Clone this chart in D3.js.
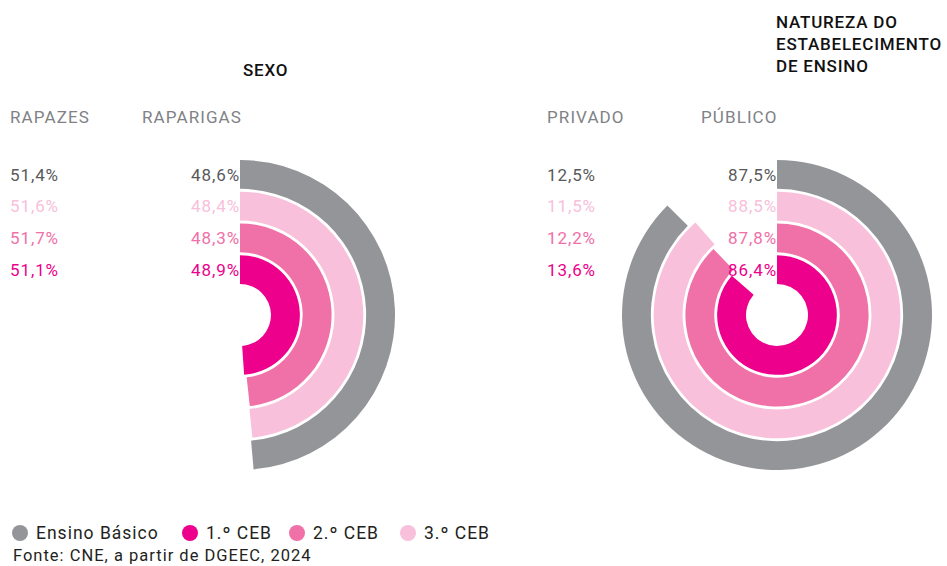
<!DOCTYPE html>
<html>
<head>
<meta charset="utf-8">
<script src="https://cdn.jsdelivr.net/npm/d3@7"></script>
<style>
  body { margin: 0; background: #fff; }
  svg { font-family: Roboto, "Noto Sans", sans-serif; }
</style>
</head>
<body>
<div id="chart"></div>
<script>
// levels, ordered inner ring -> outer ring
const levels = ["1.º CEB", "2.º CEB", "3.º CEB", "Ensino Básico"];
const legendOrder = ["Ensino Básico", "1.º CEB", "2.º CEB", "3.º CEB"];
const colors = ["#ec008c", "#f070a8", "#f8c0da", "#939598"];
const labelColors = ["#ec008c", "#f070a8", "#f8c0da", "#58595b"];

// values per level (same order as levels)
const rapazes = [51.1, 51.7, 51.6, 51.4];
const raparigas = [48.9, 48.3, 48.4, 48.6];
const privado = [13.6, 12.2, 11.5, 12.5];
const publico = [86.4, 87.8, 88.5, 87.5];

const width = 947, height = 566;
const svg = d3.select("#chart").append("svg")
    .attr("width", width)
    .attr("height", height);

// radial band scale shared by both charts
const r = d3.scaleBand()
    .domain(levels)
    .range([31, 155])
    .paddingInner(0.09);

const angle = d3.scaleLinear()
    .domain([0, 100])
    .range([0, 2 * Math.PI]);

const color = d3.scaleOrdinal().domain(levels).range(colors);
const labelColor = d3.scaleOrdinal().domain(levels).range(labelColors);

const arc = d3.arc()
    .innerRadius(d => r(d.level))
    .outerRadius(d => r(d.level) + r.bandwidth())
    .startAngle(0)
    .endAngle(d => angle(d.value));

const fmt = v => d3.format(".1f")(v).replace(".", ",") + "%";

function drawPanel(cx, cy, leftX, rightHeadX, leftHead, rightHead, leftVals, rightVals) {
    const g = svg.append("g").attr("transform", "translate(" + cx + "," + cy + ")");
    const rows = levels.map((l, i) => ({ level: l, value: rightVals[i], other: leftVals[i] }));

    g.selectAll("path")
        .data(rows)
        .enter()
        .append("path")
            .attr("d", arc)
            .attr("fill", d => color(d.level));

    // row labels, vertically centred on the top of each ring
    const rowY = d => -(r(d.level) + r.bandwidth() / 2);
    g.selectAll("text.right")
        .data(rows)
        .enter()
        .append("text")
            .attr("class", "right")
            .attr("x", 0)
            .attr("y", rowY)
            .attr("dy", "0.36em")
            .attr("text-anchor", "end")
            .attr("font-size", 17)
            .attr("letter-spacing", 0.9)
            .attr("fill", d => labelColor(d.level))
            .text(d => fmt(d.value));

    g.selectAll("text.left")
        .data(rows)
        .enter()
        .append("text")
            .attr("class", "left")
            .attr("x", leftX - cx)
            .attr("y", rowY)
            .attr("dy", "0.36em")
            .attr("font-size", 17)
            .attr("letter-spacing", 0.9)
            .attr("fill", d => labelColor(d.level))
            .text(d => fmt(d.other));

    // column heads
    svg.append("text")
        .attr("x", leftX).attr("y", 123)
        .attr("font-size", 17).attr("letter-spacing", 1.1)
        .attr("fill", "#808285")
        .text(leftHead);
    svg.append("text")
        .attr("x", rightHeadX).attr("y", 123)
        .attr("font-size", 17).attr("letter-spacing", 1.1)
        .attr("fill", "#808285")
        .text(rightHead);
}

drawPanel(240, 315, 10, 142, "RAPAZES", "RAPARIGAS", rapazes, raparigas);
drawPanel(777, 315, 547, 701, "PRIVADO", "PÚBLICO", privado, publico);

// titles
svg.append("text")
    .attr("x", 243).attr("y", 76)
    .attr("font-size", 17).attr("font-weight", 500).attr("letter-spacing", 0.8)
    .attr("fill", "#111")
    .text("SEXO");

const title2 = svg.append("text")
    .attr("x", 776).attr("y", 28)
    .attr("font-size", 17).attr("font-weight", 500).attr("letter-spacing", 0.8)
    .attr("fill", "#111");
["NATUREZA DO", "ESTABELECIMENTO", "DE ENSINO"].forEach(function (t, i) {
    title2.append("tspan").attr("x", 776).attr("dy", i === 0 ? 0 : 22).text(t);
});

// legend
const legendX = [20, 190, 297, 408];
const lg = svg.append("g").attr("transform", "translate(0,533)");
const item = lg.selectAll("g")
    .data(legendOrder)
    .enter()
    .append("g")
        .attr("transform", (d, i) => "translate(" + legendX[i] + ",0)");
item.append("circle")
    .attr("r", 8)
    .attr("fill", d => color(d));
item.append("text")
    .attr("x", 16)
    .attr("dy", "0.36em")
    .attr("font-size", 17.5)
    .attr("letter-spacing", 1)
    .attr("fill", "#231f20")
    .text(d => d);

svg.append("text")
    .attr("x", 13).attr("y", 561)
    .attr("font-size", 16.5).attr("letter-spacing", 1)
    .attr("fill", "#231f20")
    .text("Fonte: CNE, a partir de DGEEC, 2024");
</script>
</body>
</html>
